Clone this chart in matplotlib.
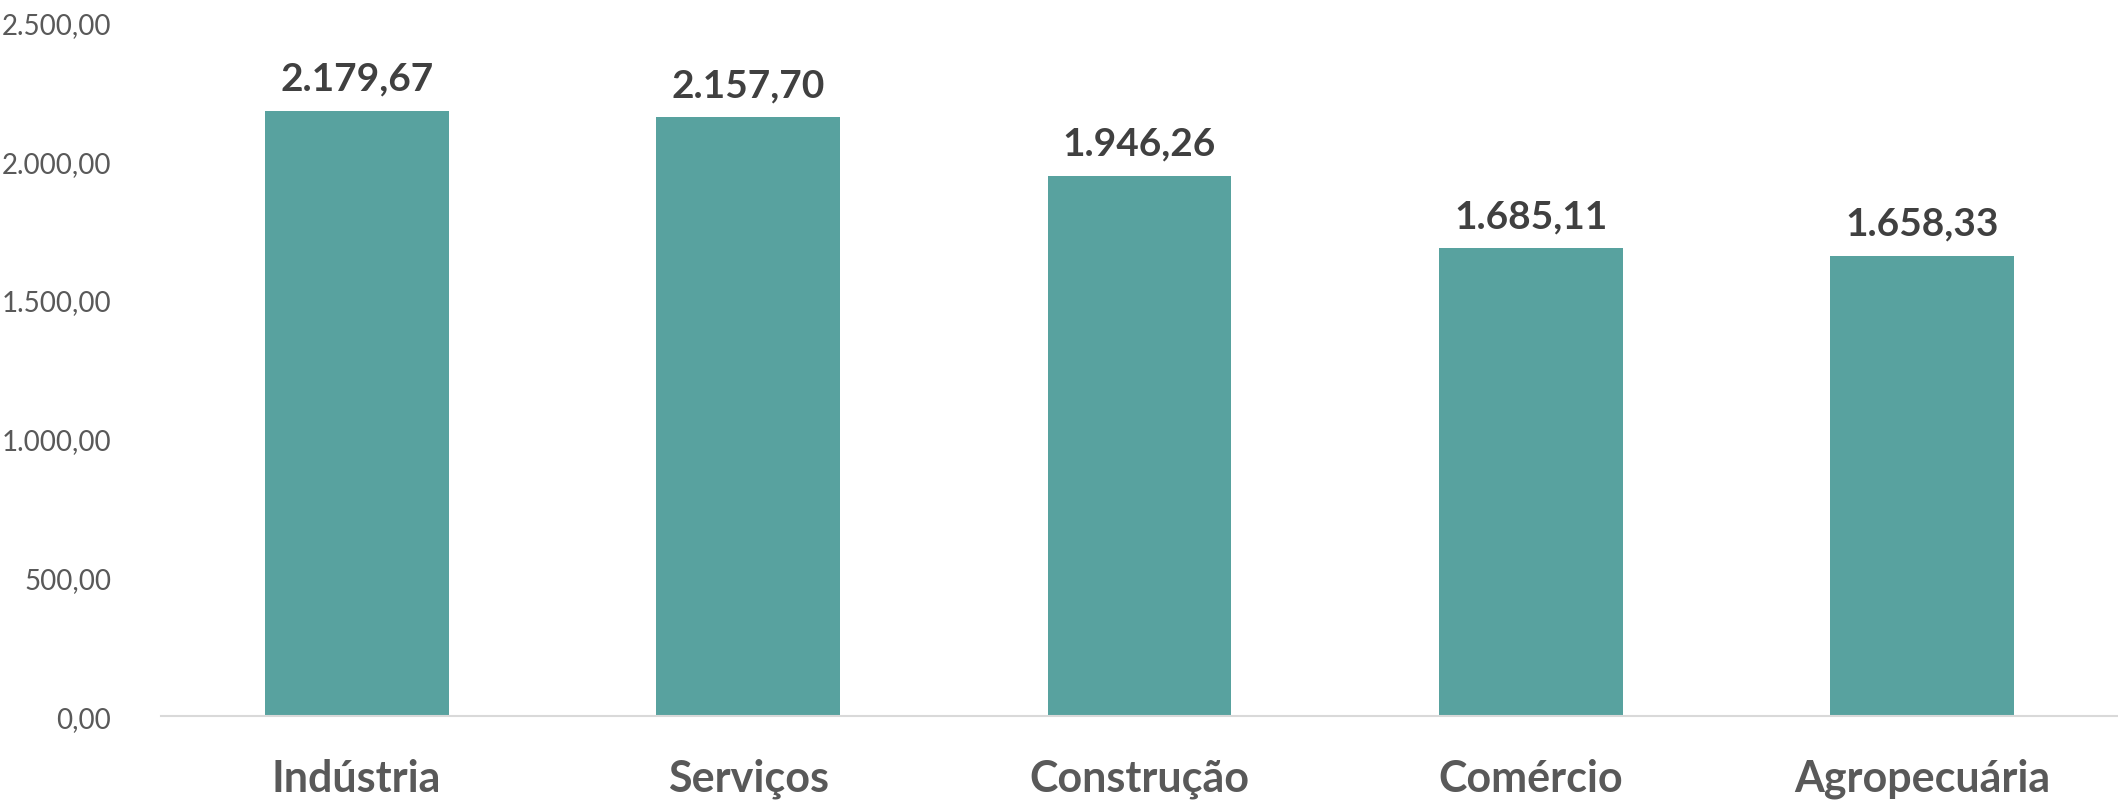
import matplotlib.pyplot as plt
import numpy as np
from matplotlib.ticker import FuncFormatter

categories = ["Indústria", "Serviços", "Construção", "Comércio", "Agropecuária"]
values = [2179.67, 2157.70, 1946.26, 1685.11, 1658.33]
y_ticks = [0, 500, 1000, 1500, 2000, 2500]

BAR_COLOR = "#58A29F"
TICK_COLOR = "#595959"
LABEL_COLOR = "#404040"


def br_format(value: float) -> str:
    # 2179.67 -> 2.179,67
    text = f"{value:,.2f}"
    return text.replace(",", "X").replace(".", ",").replace("X", ".")


plt.rcParams["font.family"] = ["Lato", "DejaVu Sans"]

fig = plt.figure(figsize=(21.18, 8.04), dpi=100)
ax = fig.add_axes([0.076, 0.108, 0.924, 0.863])

x = np.arange(len(categories))
bars = ax.bar(x, values, width=0.47, color=BAR_COLOR, zorder=2)

for bar, value in zip(bars, values):
    ax.annotate(
        br_format(value),
        xy=(bar.get_x() + bar.get_width() / 2, bar.get_height()),
        xytext=(0, 11),
        textcoords="offset points",
        ha="center",
        va="bottom",
        fontsize=28,
        fontweight="bold",
        color=LABEL_COLOR,
    )

ax.set_xlim(-0.5, len(categories) - 0.5)
ax.set_ylim(0, 2500)
ax.set_yticks(y_ticks)
ax.yaxis.set_major_formatter(FuncFormatter(lambda v, _: br_format(v)))
ax.set_xticks(x)
ax.set_xticklabels(categories, fontsize=31, fontweight="bold", color=TICK_COLOR)

ax.tick_params(axis="y", length=0, pad=36, labelsize=20, labelcolor=TICK_COLOR)
ax.tick_params(axis="x", length=0, pad=30)

for side in ["top", "right", "left"]:
    ax.spines[side].set_visible(False)
ax.spines["bottom"].set_color("#D9D9D9")
ax.spines["bottom"].set_linewidth(1.5)

fig.savefig("out.png", dpi=100)
plt.close(fig)
